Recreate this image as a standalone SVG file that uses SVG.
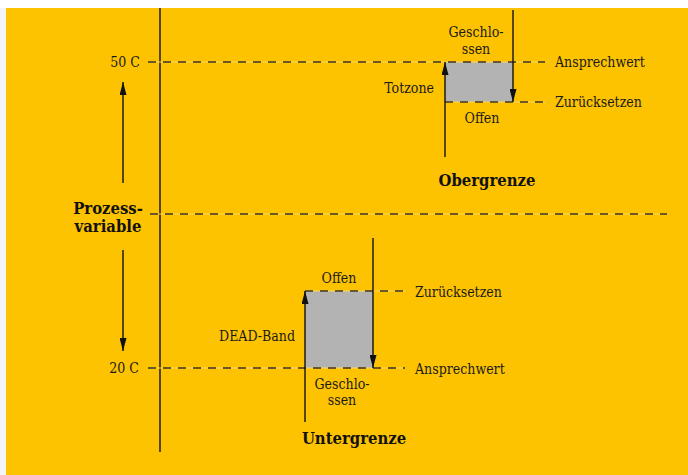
<svg xmlns="http://www.w3.org/2000/svg" width="688" height="475" viewBox="0 0 688 475">
<style>
.t{font-family:"DejaVu Serif Condensed","DejaVu Serif","Liberation Serif",serif;font-stretch:condensed;font-size:14px;fill:#1a1a1a}
.b{font-family:"DejaVu Serif Condensed","DejaVu Serif","Liberation Serif",serif;font-stretch:condensed;font-size:16.5px;font-weight:bold;fill:#111}
.dash{stroke:#3a3320;stroke-width:1.3;stroke-dasharray:8 7;fill:none}
.hl{stroke:#ffd75a;stroke-width:1;fill:none}
.ln{stroke:#111;stroke-width:1.4;fill:none}
.box{fill:#b3b3b3}
</style>
<defs>
<marker id="ah" viewBox="0 0 10 10" refX="10" refY="5" markerWidth="13" markerHeight="7" markerUnits="userSpaceOnUse" orient="auto" preserveAspectRatio="none">
<path d="M0,0 L10,5 L0,10 Z" fill="#111"/>
</marker>
</defs>
<rect x="0" y="0" width="688" height="475" fill="#ffffff"/>
<rect x="0" y="8" width="6" height="467" fill="#f4f4f4"/>
<rect x="6" y="8" width="682" height="467" fill="#fdc300"/>
<g id="boxes">
<rect class="box" x="445" y="62" width="68" height="40"/>
<rect class="box" x="305" y="291" width="68" height="77"/>
</g>
<g id="connectors">
<line class="ln" x1="160" y1="8" x2="160" y2="452"/>
<line class="hl" x1="148" y1="62" x2="545" y2="62"/>
<line class="dash" x1="148" y1="62" x2="545" y2="62"/>
<line class="hl" x1="445" y1="102" x2="545" y2="102"/>
<line class="dash" x1="445" y1="102" x2="545" y2="102"/>
<line class="hl" x1="150" y1="214" x2="667" y2="214"/>
<line class="dash" x1="150" y1="214" x2="667" y2="214"/>
<line class="hl" x1="305" y1="291" x2="405" y2="291"/>
<line class="dash" x1="305" y1="291" x2="405" y2="291"/>
<line class="hl" x1="148" y1="368" x2="405" y2="368"/>
<line class="dash" x1="148" y1="368" x2="405" y2="368"/>
<line class="ln" x1="445" y1="157" x2="445" y2="62" marker-end="url(#ah)"/>
<line class="ln" x1="513" y1="10" x2="513" y2="102" marker-end="url(#ah)"/>
<line class="ln" x1="305" y1="422" x2="305" y2="291" marker-end="url(#ah)"/>
<line class="ln" x1="373" y1="238" x2="373" y2="368" marker-end="url(#ah)"/>
<line class="ln" x1="123" y1="183" x2="123" y2="82" marker-end="url(#ah)"/>
<line class="ln" x1="123" y1="250" x2="123" y2="351" marker-end="url(#ah)"/>
</g>
<g id="axis-labels">
<text class="t" x="140" y="67" text-anchor="end">50 C</text>
<text class="t" x="139" y="373" text-anchor="end">20 C</text>
<text class="b" x="108" y="214" text-anchor="middle">Prozess-</text>
<text class="b" x="108" y="232" text-anchor="middle">variable</text>
</g>
<g id="upper">
<text class="t" x="476" y="37" text-anchor="middle">Geschlo-</text>
<text class="t" x="476" y="54" text-anchor="middle">ssen</text>
<text class="t" x="555" y="67">Ansprechwert</text>
<text class="t" x="555" y="107">Zurücksetzen</text>
<text class="t" x="434" y="93" text-anchor="end">Totzone</text>
<text class="t" x="482" y="123" text-anchor="middle">Offen</text>
<text class="b" x="487" y="186" text-anchor="middle">Obergrenze</text>
</g>
<g id="lower">
<text class="t" x="339" y="283" text-anchor="middle">Offen</text>
<text class="t" x="415" y="297">Zurücksetzen</text>
<text class="t" x="295" y="341" text-anchor="end">DEAD-Band</text>
<text class="t" x="415" y="374">Ansprechwert</text>
<text class="t" x="342" y="389" text-anchor="middle">Geschlo-</text>
<text class="t" x="342" y="405" text-anchor="middle">ssen</text>
<text class="b" x="354" y="444" text-anchor="middle">Untergrenze</text>
</g>
</svg>
